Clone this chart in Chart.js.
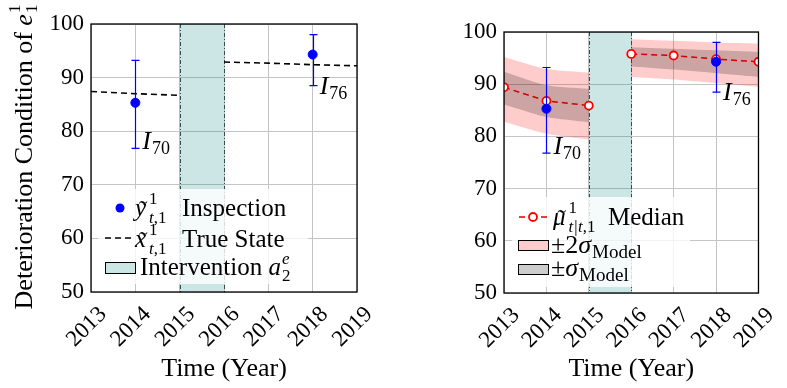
<!DOCTYPE html>
<html>
<head>
<meta charset="utf-8">
<script src="https://cdn.jsdelivr.net/npm/chart.js@4.4.0/dist/chart.umd.min.js"></script>
<style>
  body { margin: 0; background: #fff; width: 787px; height: 388px; overflow: hidden; position: relative; }
  #leftChart { position: absolute; left: 0; top: 0; }
  #rightChart { position: absolute; left: 400px; top: 0; }
</style>
</head>
<body>
<canvas id="leftChart" width="400" height="388"></canvas>
<canvas id="rightChart" width="387" height="388"></canvas>
<script>
// ---- data ----
const years = [2013, 2014, 2015, 2016, 2017, 2018, 2019];
const yTicks = [50, 60, 70, 80, 90, 100];
const intervention = [2015, 2016];

const inspYears = [2014, 2018];
const inspValues = [85.3, 94.3];
const inspLow = [76.8, 88.5];
const inspHigh = [93.2, 98.0];
const inspLabels = ['70', '76'];
const labelValues = [76.6, 87.0];

const yearsPre = [2013, 2014, 2015];
const yearsPost = [2016, 2017, 2018, 2019];
const trueStatePre = [87.4, 87.0, 86.7];
const trueStatePost = [92.9, 92.7, 92.4, 92.2];

const medianPre = [89.4, 86.8, 85.9];
const medianPost = [95.8, 95.5, 94.8, 94.3];
const upper2Pre = [95.2, 92.9, 92.2];
const lower2Pre = [82.8, 80.5, 79.4];
const upper1Pre = [92.4, 89.8, 89.1];
const lower1Pre = [86.1, 83.7, 82.7];
const upper2Post = [98.6, 98.3, 98.0, 97.8];
const lower2Post = [91.4, 90.9, 90.2, 89.5];
const upper1Post = [97.1, 96.8, 96.5, 96.2];
const lower1Post = [93.4, 92.8, 92.1, 91.4];

// ---- helpers ----
const SERIF = '"Liberation Serif", "DejaVu Serif", serif';
const pts = (xs, ys) => xs.map((x, i) => ({ x: x, y: ys[i] }));

function setFont(ctx, size, it) {
    ctx.font = (it ? 'italic ' : '') + size + 'px ' + SERIF;
}

// draws a run of text pieces (math-ish), returns width
function drawRich(ctx, x, y, runs, measureOnly) {
    let cx = x;
    runs.forEach(r => {
        setFont(ctx, r.s || 25, r.i);
        const w = ctx.measureText(r.t).width;
        if (!measureOnly) {
            ctx.textAlign = 'left';
            ctx.fillText(r.t, cx + (r.dx || 0), y + (r.dy || 0));
            if (r.tilde) {
                ctx.textAlign = 'center';
                ctx.fillText('\u02dc', cx + w / 2 + 1, y + 2);
                ctx.textAlign = 'left';
            }
        }
        if (!r.hold) cx += w + (r.gap || 0);
    });
    return cx - x;
}

// superscript over subscript after a math symbol
function mathSym(ch, sup, subIt, subUp) {
    return [
        { t: ch, i: true, tilde: true, gap: 3 },
        { t: sup, s: 17, dy: -12, hold: true },
        { t: subIt, s: 17, i: true, dy: 7 },
        { t: subUp, s: 17, dy: 7 }
    ];
}

function makeScales(yWidth, xHeight) {
    return {
        x: {
            type: 'linear', min: 2013, max: 2019,
            afterBuildTicks: s => { s.ticks = years.map(v => ({ value: v })); },
            afterFit: s => { s.height = xHeight; },
            ticks: {
                font: { family: SERIF, size: 23 }, color: '#000',
                minRotation: 45, maxRotation: 45, padding: 9, labelOffset: 12,
                autoSkip: false, callback: v => String(v)
            },
            grid: { color: '#c4c4c4', lineWidth: 1, drawTicks: false },
            border: { display: false }
        },
        y: {
            min: 50, max: 100,
            afterBuildTicks: s => { s.ticks = yTicks.map(v => ({ value: v })); },
            afterFit: s => { s.width = yWidth; },
            ticks: { font: { family: SERIF, size: 23 }, color: '#000', padding: 7 },
            grid: { color: '#c4c4c4', lineWidth: 1, drawTicks: false },
            border: { display: false }
        }
    };
}

// intervention band behind the data
const bandPlugin = {
    id: 'band',
    beforeDatasetsDraw(chart) {
        const { ctx, chartArea: a, scales: { x } } = chart;
        const x0 = x.getPixelForValue(intervention[0]);
        const x1 = x.getPixelForValue(intervention[1]);
        ctx.save();
        ctx.fillStyle = 'rgba(0,128,128,0.2)';
        ctx.fillRect(x0, a.top, x1 - x0, a.bottom - a.top);
        ctx.strokeStyle = '#2f4f4f';
        ctx.lineWidth = 1;
        ctx.setLineDash([4, 2, 1, 2]);
        [x0, x1].forEach(px => {
            ctx.beginPath();
            ctx.moveTo(Math.round(px) + 0.5, a.top);
            ctx.lineTo(Math.round(px) + 0.5, a.bottom);
            ctx.stroke();
        });
        ctx.restore();
    }
};

const errorPlugin = {
    id: 'errors',
    afterDatasetsDraw(chart) {
        const { ctx, scales: { x, y } } = chart;
        ctx.save();
        ctx.strokeStyle = '#0000ff';
        ctx.lineWidth = 1.2;
        inspYears.forEach((yr, i) => {
            const px = Math.round(x.getPixelForValue(yr)) + 0.5;
            const lo = y.getPixelForValue(inspLow[i]);
            const hi = y.getPixelForValue(inspHigh[i]);
            ctx.beginPath();
            ctx.moveTo(px, lo); ctx.lineTo(px, hi);
            ctx.moveTo(px - 4, lo); ctx.lineTo(px + 4, lo);
            ctx.moveTo(px - 4, hi); ctx.lineTo(px + 4, hi);
            ctx.stroke();
        });
        ctx.restore();
    }
};

function drawCommon(chart, legendFn) {
    const { ctx, chartArea: a, scales: { x, y } } = chart;
    ctx.save();
    ctx.fillStyle = '#000';
    ctx.textBaseline = 'alphabetic';
    // I_70 / I_76 labels
    inspYears.forEach((yr, i) => {
        const px = x.getPixelForValue(yr) + 7;
        const py = y.getPixelForValue(labelValues[i]);
        drawRich(ctx, px, py, [{ t: 'I', s: 26, i: true, gap: 1 }, { t: inspLabels[i], s: 18, dy: 5 }]);
    });
    legendFn(ctx, a);
    // frame
    ctx.strokeStyle = '#000';
    ctx.lineWidth = 1.3;
    ctx.setLineDash([]);
    ctx.strokeRect(a.left, a.top, a.right - a.left, a.bottom - a.top);
    // x title
    setFont(ctx, 26, false);
    ctx.textAlign = 'center';
    ctx.fillText('Time (Year)', (a.left + a.right) / 2, 376);
    ctx.restore();
}

function leftLegend(ctx, a) {
    ctx.fillStyle = 'rgba(255,255,255,0.8)';
    ctx.fillRect(98, 189, 210, 95);
    // inspection marker
    ctx.fillStyle = '#0000ff';
    ctx.beginPath(); ctx.arc(120, 208, 4.5, 0, Math.PI * 2); ctx.fill();
    ctx.fillStyle = '#000';
    drawRich(ctx, 135, 216, mathSym('y', '1', 't', ',1'));
    setFont(ctx, 25, false); ctx.fillText('Inspection', 182, 216);
    // true state
    ctx.strokeStyle = '#000'; ctx.lineWidth = 1.5; ctx.setLineDash([6, 4]);
    ctx.beginPath(); ctx.moveTo(105, 238); ctx.lineTo(133, 238); ctx.stroke();
    ctx.setLineDash([]);
    drawRich(ctx, 135, 247, mathSym('x', '1', 't', ',1'));
    setFont(ctx, 25, false); ctx.fillText('True State', 182, 247);
    // intervention box
    ctx.fillStyle = '#cce6e6'; ctx.fillRect(105, 262, 30, 11);
    ctx.strokeStyle = '#000'; ctx.lineWidth = 1; ctx.strokeRect(105.5, 262.5, 30, 11);
    ctx.fillStyle = '#000';
    drawRich(ctx, 140, 275, [{ t: 'Intervention ', s: 25 }, { t: 'a', i: true, gap: 1 }, { t: 'e', s: 17, i: true, dy: -11, hold: true }, { t: '2', s: 17, dy: 6 }]);
}

function rightLegend(ctx, a) {
    ctx.fillStyle = 'rgba(255,255,255,0.8)';
    ctx.fillRect(112, 197, 178, 90);
    // median marker
    ctx.strokeStyle = '#e00000'; ctx.lineWidth = 1.5;
    ctx.beginPath(); ctx.moveTo(119, 217); ctx.lineTo(125, 217); ctx.moveTo(141, 217); ctx.lineTo(147, 217); ctx.stroke();
    ctx.fillStyle = '#fff'; ctx.lineWidth = 1.8; ctx.strokeStyle = '#ff0000';
    ctx.beginPath(); ctx.arc(133, 217, 4, 0, Math.PI * 2); ctx.fill(); ctx.stroke();
    ctx.fillStyle = '#000';
    drawRich(ctx, 153, 225, mathSym('\u03bc', '1', 't|t', ',1'));
    setFont(ctx, 25, false); ctx.fillText('Median', 208, 225);
    // 2 sigma box
    ctx.fillStyle = '#ffcccc'; ctx.fillRect(118, 240, 30, 10);
    ctx.strokeStyle = '#000'; ctx.lineWidth = 1; ctx.strokeRect(118.5, 240.5, 30, 10);
    ctx.fillStyle = '#000';
    drawRich(ctx, 151, 253, [{ t: '\u00b12', s: 26 }, { t: '\u03c3', s: 26, i: true, gap: 1 }, { t: 'Model', s: 19, dy: 5 }]);
    // 1 sigma box
    ctx.fillStyle = '#cccccc'; ctx.fillRect(118, 264, 30, 10);
    ctx.strokeRect(118.5, 264.5, 30, 10);
    ctx.fillStyle = '#000';
    drawRich(ctx, 151, 276, [{ t: '\u00b1', s: 26 }, { t: '\u03c3', s: 26, i: true, gap: 1 }, { t: 'Model', s: 19, dy: 5 }]);
}

const leftOverlay = {
    id: 'leftOverlay',
    afterDraw(chart) {
        drawCommon(chart, leftLegend);
        const ctx = chart.ctx;
        ctx.save();
        ctx.fillStyle = '#000';
        ctx.translate(32, 157);
        ctx.rotate(-Math.PI / 2);
        const runs = [{ t: 'Deterioration Condition of ', s: 26 }, { t: 'e', s: 26, i: true, gap: 1 }, { t: '1', s: 17, dy: -12, hold: true }, { t: '1', s: 17, dy: 5 }];
        const w = drawRich(ctx, 0, 0, runs, true);
        drawRich(ctx, -w / 2, 0, runs);
        ctx.restore();
    }
};

const rightOverlay = {
    id: 'rightOverlay',
    afterDraw(chart) { drawCommon(chart, rightLegend); }
};

const inspectionSet = {
    data: pts(inspYears, inspValues),
    pointRadius: 4.5, pointBackgroundColor: '#0000ff', pointBorderColor: '#0000ff', showLine: false
};

function lineSet(xs, ys, color) {
    return { data: pts(xs, ys), showLine: true, borderColor: color, borderWidth: 1.6, borderDash: [6, 4], pointRadius: 0 };
}

function medianSet(xs, ys) {
    return {
        data: pts(xs, ys), showLine: true, borderColor: '#d00000', borderWidth: 1.5, borderDash: [6, 4],
        pointRadius: 4, pointBackgroundColor: '#fff', pointBorderColor: '#ff0000', pointBorderWidth: 1.8
    };
}

function edgeSet(xs, ys, fillColor) {
    return {
        data: pts(xs, ys), showLine: true, borderColor: 'transparent', borderWidth: 0, pointRadius: 0, tension: 0.2,
        fill: fillColor ? '+1' : false, backgroundColor: fillColor || 'transparent'
    };
}

const common = {
    responsive: false, animation: false, devicePixelRatio: 1,
    plugins: { legend: { display: false }, tooltip: { enabled: false } }
};

new Chart(document.getElementById('leftChart'), {
    type: 'scatter',
    data: {
        datasets: [
            inspectionSet,
            lineSet(yearsPre, trueStatePre, '#000'),
            lineSet(yearsPost, trueStatePost, '#000')
        ]
    },
    options: Object.assign({}, common, {
        layout: { padding: { top: 24, right: 43, left: 0, bottom: 0 } },
        scales: makeScales(91, 96)
    }),
    plugins: [bandPlugin, errorPlugin, leftOverlay]
});

const sig1 = 'rgba(0,0,0,0.2)';
const sig2 = 'rgba(255,0,0,0.2)';

new Chart(document.getElementById('rightChart'), {
    type: 'scatter',
    data: {
        datasets: [
            Object.assign({}, inspectionSet),
            medianSet(yearsPre, medianPre),
            medianSet(yearsPost, medianPost),
            edgeSet(yearsPre, upper1Pre, sig1),
            edgeSet(yearsPre, lower1Pre),
            edgeSet(yearsPost, upper1Post, sig1),
            edgeSet(yearsPost, lower1Post),
            edgeSet(yearsPre, upper2Pre, sig2),
            edgeSet(yearsPre, lower2Pre),
            edgeSet(yearsPost, upper2Post, sig2),
            edgeSet(yearsPost, lower2Post)
        ]
    },
    options: Object.assign({}, common, {
        layout: { padding: { top: 32, right: 20, left: 0, bottom: 0 } },
        scales: makeScales(104, 95)
    }),
    plugins: [bandPlugin, errorPlugin, rightOverlay]
});
</script>
</body>
</html>
